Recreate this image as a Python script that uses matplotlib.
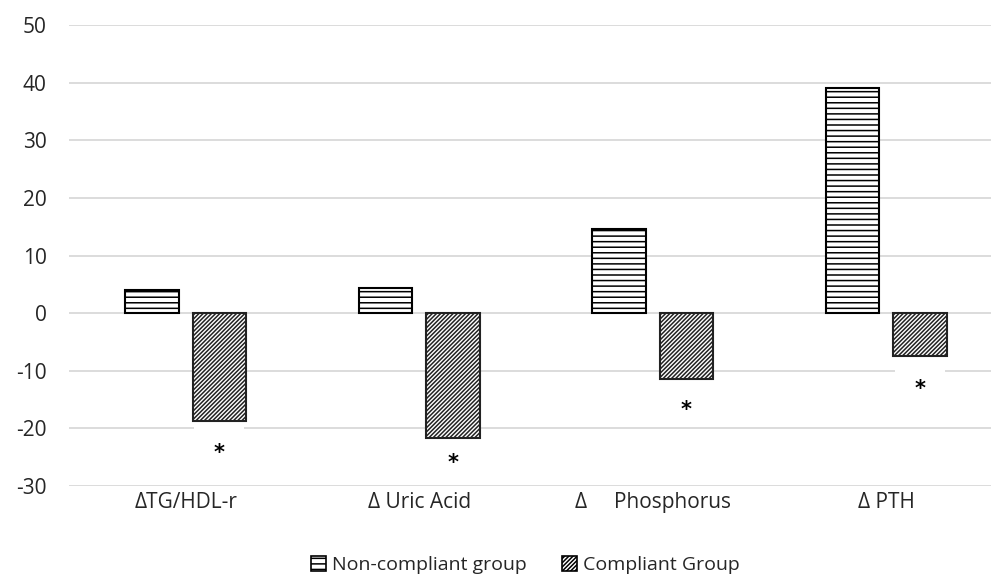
import matplotlib.pyplot as plt
import numpy as np
from matplotlib.patches import Patch

categories = ['ΔTG/HDL-r', 'Δ Uric Acid', 'Δ     Phosphorus', 'Δ PTH']
non_compliant = [4.0, 4.3, 14.6, 39.0]
compliant = [-18.7, -21.7, -11.5, -7.4]
star_y = [-23.9, -25.6, -16.3, -12.8]
yticks = [-30, -20, -10, 0, 10, 20, 30, 40, 50]

plt.rcParams['font.family'] = ['Open Sans', 'DejaVu Sans']
plt.rcParams['axes.unicode_minus'] = False
plt.rcParams['hatch.linewidth'] = 1.1

fig = plt.figure(figsize=(9.91, 5.78), dpi=100)
ax = fig.add_axes([69 / 991, 92 / 578, 934 / 991, 461 / 578])

x = np.arange(len(categories))
w = 0.23
off = 0.144
ax.bar(x - off, non_compliant, w, color='white', edgecolor='black',
       linewidth=1.5, hatch='---', zorder=3)
ax.bar(x + off, compliant, w, color='white', edgecolor='#222222',
       linewidth=1.5, hatch='////////', zorder=3)

# asterisks sit in white text boxes that hide the gridline above them
for xi, yi in zip(x + off, star_y):
    ax.annotate('      \n*', xy=(xi, yi), xytext=(0, -9), textcoords='offset points',
                ha='center', va='bottom', multialignment='center', linespacing=0.9,
                fontsize=15, fontweight='bold', family='DejaVu Sans', color='black',
                zorder=2, bbox=dict(boxstyle='square,pad=0.15', fc='white', ec='none'))

ax.set_xlim(-0.5, len(categories) - 0.5)
ax.set_ylim(-30, 50)
ax.set_yticks(yticks)
ax.set_xticks(x)
ax.set_xticklabels(categories, fontsize=15, color='#262626')
ax.tick_params(axis='y', labelsize=15, colors='#262626', length=0, pad=16)
ax.tick_params(axis='x', length=0, pad=4)
ax.grid(axis='y', color='#d9d9d9', linewidth=1.3, zorder=0)
ax.set_axisbelow(True)
for s in ax.spines.values():
    s.set_visible(False)

handles = [Patch(facecolor='white', edgecolor='black', hatch='---', linewidth=1.2),
           Patch(facecolor='white', edgecolor='black', hatch='////////', linewidth=1.2)]
fig.legend(handles, ['Non-compliant group', 'Compliant Group'], loc='center',
           bbox_to_anchor=(0.53, 0.0225), ncol=2, frameon=False, fontsize=14,
           handlelength=0.8, handleheight=0.8, handletextpad=0.3,
           columnspacing=1.8, labelcolor='#262626')

fig.savefig('out.png', dpi=100)
